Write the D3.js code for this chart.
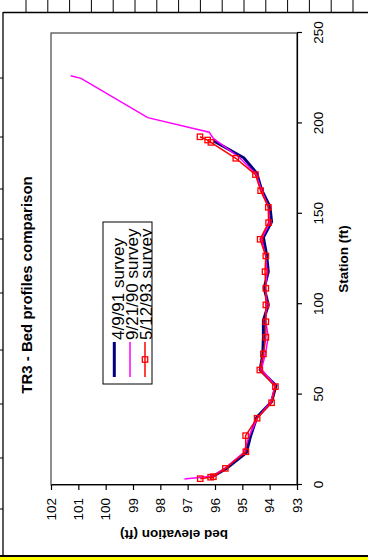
<!doctype html>
<html lang="en">
<head>
<meta charset="utf-8">
<script src="https://cdn.jsdelivr.net/npm/d3@7"></script>
<style>
body { margin: 0; background: #fff; font-family: Arial, "Liberation Sans", sans-serif; }
.axis path, .axis line { stroke: #000; stroke-width: 1.2; fill: none; }
.axis text { font-size: 13.5px; font-family: Arial, "Liberation Sans", sans-serif; fill: #000; }
.ttl { font-weight: bold; font-family: Arial, "Liberation Sans", sans-serif; }
</style>
</head>
<body>
<script>
// surveys, station (ft) vs bed elevation (ft)
var names = ["4/9/91 survey", "9/21/90 survey", "5/12/93 survey"];
var colors = ["#000080", "#ff00ff", "#ff0000"];

var station91 = [4, 5, 9, 18, 27, 37.5, 46, 55, 63.6, 72.5, 82, 91, 99.6, 109, 118, 127, 137, 145.6, 154, 163, 172.4, 181, 190.4];
var elev91    = [96.2, 96.05, 95.6, 94.85, 94.7, 94.47, 93.93, 93.77, 94.35, 94.25, 94.23, 94.23, 94.05, 94.2, 94.05, 94.11, 94.23, 93.93, 93.99, 94.29, 94.47, 94.95, 96.06];

var station90 = [3.3, 5, 10, 18, 27, 37, 46, 55, 64, 73, 82, 91, 100, 109, 118, 127, 136, 145, 154, 163, 172, 181, 191.7, 195.1, 203.2, 224.9, 226.4];
var elev90    = [97.12, 96.06, 95.57, 94.95, 94.75, 94.45, 93.95, 93.8, 94.3, 94.15, 94.05, 94.15, 94.1, 94.15, 94.1, 94.15, 94.3, 94.0, 94.05, 94.3, 94.5, 95.1, 96.06, 96.21, 98.46, 100.9, 101.28];

var station93 = [3.5, 4.3, 4.6, 9.2, 18.4, 27.3, 36.9, 45.5, 54.4, 63.6, 72.5, 81.7, 90.3, 99.6, 108.8, 118, 126.7, 135.9, 145.1, 153.6, 162.8, 171.7, 180.7, 189.5, 190.8, 192.6];
var elev93    = [96.54, 96.16, 96.06, 95.62, 94.87, 94.88, 94.46, 93.93, 93.79, 94.36, 94.23, 94.14, 94.14, 94.14, 94.14, 94.17, 94.14, 94.35, 94.04, 94.05, 94.33, 94.52, 95.24, 96.15, 96.27, 96.55];

var stationTicks = [0, 50, 100, 150, 200, 250];
var elevTicks = [93, 94, 95, 96, 97, 98, 99, 100, 101, 102];
var rowLines = [78, 137, 189, 239, 293, 350, 404, 458, 509];

var svg = d3.select("body").append("svg")
    .attr("width", 368)
    .attr("height", 560);

// sheet bits around the chart
for (var i = 0; i < 16; i++) {
  svg.append("line").attr("x1", 26 + i * 21.8).attr("x2", 26 + i * 21.8)
    .attr("y1", 0).attr("y2", 12).attr("stroke", "#000").attr("stroke-width", 1);
}
rowLines.forEach(function(r) {
  svg.append("line").attr("x1", 0).attr("x2", 3).attr("y1", r).attr("y2", r)
    .attr("stroke", "#000").attr("stroke-width", 1);
});
svg.append("line").attr("x1", 3).attr("x2", 368).attr("y1", 12.5).attr("y2", 12.5)
  .attr("stroke", "#000").attr("stroke-width", 1.3);
svg.append("line").attr("x1", 3).attr("x2", 3).attr("y1", 12).attr("y2", 556)
  .attr("stroke", "#000").attr("stroke-width", 1.3);
svg.append("rect").attr("x", 0).attr("y", 557).attr("width", 368).attr("height", 3).attr("fill", "#ffff00");
svg.append("rect").attr("x", 0).attr("y", 555).attr("width", 368).attr("height", 2).attr("fill", "#000");

// the chart itself is drawn turned on its side
var g = svg.append("g").attr("transform", "translate(0,560) rotate(-90)");

var x = d3.scaleLinear().domain([0, 250]).range([75, 527]);
var y = d3.scaleLinear().domain([93, 102]).range([297, 51]);

g.append("rect")
  .attr("x", 75).attr("y", 51).attr("width", 452).attr("height", 246)
  .attr("fill", "none").attr("stroke", "#444").attr("stroke-width", 1.2);

g.append("g").attr("class", "axis")
  .attr("transform", "translate(0,297)")
  .call(d3.axisBottom(x).tickValues(stationTicks).tickSize(5).tickSizeOuter(0).tickPadding(11));

g.append("g").attr("class", "axis")
  .attr("transform", "translate(75,0)")
  .call(d3.axisLeft(y).tickValues(elevTicks).tickSize(5).tickSizeOuter(0).tickPadding(8));

var line = d3.line()
  .x(function(d) { return x(d[0]); })
  .y(function(d) { return y(d[1]); });

var data91 = d3.zip(station91, elev91);
var data90 = d3.zip(station90, elev90);
var data93 = d3.zip(station93, elev93);

g.append("path").datum(data91).attr("d", line)
  .attr("fill", "none").attr("stroke", colors[0]).attr("stroke-width", 3).attr("stroke-linejoin", "round");
g.append("path").datum(data90).attr("d", line)
  .attr("fill", "none").attr("stroke", colors[1]).attr("stroke-width", 1.5);
g.append("path").datum(data93).attr("d", line)
  .attr("fill", "none").attr("stroke", colors[2]).attr("stroke-width", 1.5);

g.selectAll(".sq").data(data93).enter().append("rect")
  .attr("class", "sq")
  .attr("x", function(d) { return x(d[0]) - 2.7; })
  .attr("y", function(d) { return y(d[1]) - 2.7; })
  .attr("width", 5.4).attr("height", 5.4)
  .attr("fill", "none").attr("stroke", colors[2]).attr("stroke-width", 1.3);

// titles
g.append("text").attr("class", "ttl")
  .attr("x", 275).attr("y", 31.5)
  .attr("text-anchor", "middle").style("font-size", "15px")
  .text("TR3 - Bed profiles comparison");

g.append("text").attr("class", "ttl")
  .attr("x", 301).attr("y", 348)
  .attr("text-anchor", "middle").style("font-size", "13.5px")
  .text("Station (ft)");

g.append("text").attr("class", "ttl")
  .attr("transform", "translate(30,174) rotate(-90)")
  .attr("text-anchor", "middle").style("font-size", "13.5px")
  .text("bed elevation (ft)");

// legend
svg.append("defs").append("clipPath").attr("id", "legclip")
  .append("rect").attr("x", 176).attr("y", 103).attr("width", 162).attr("height", 49);

var leg = g.append("g");
leg.append("rect").attr("x", 176).attr("y", 103).attr("width", 162).attr("height", 49)
  .attr("fill", "#fff").attr("stroke", "#000").attr("stroke-width", 1);

var legRows = [114.3, 130, 145];
var legText = [123.5, 137.5, 151.5];
var legItems = leg.append("g").attr("clip-path", "url(#legclip)");
names.forEach(function(n, i) {
  legItems.append("line").attr("x1", 183).attr("x2", 218)
    .attr("y1", legRows[i]).attr("y2", legRows[i])
    .attr("stroke", colors[i]).attr("stroke-width", i === 0 ? 3 : 1.5);
  if (i === 2) {
    legItems.append("rect").attr("x", 197.8).attr("y", legRows[i] - 2.7)
      .attr("width", 5.4).attr("height", 5.4)
      .attr("fill", "none").attr("stroke", colors[2]).attr("stroke-width", 1.3);
  }
  legItems.append("text").attr("x", 220).attr("y", legText[i])
    .style("font-size", "17px").style("font-family", "Arial, 'Liberation Sans', sans-serif")
    .text(n);
});
</script>
</body>
</html>
